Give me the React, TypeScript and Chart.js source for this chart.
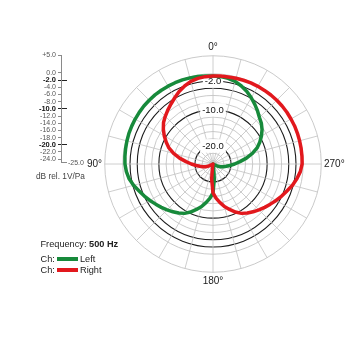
import React, { useEffect, useRef } from 'react';
import { Chart, registerables } from 'chart.js';

Chart.register(...registerables);

const FONT = "'Liberation Sans', Arial, Helvetica, sans-serif";

// Angles counter-clockwise from the top (0° at top, 90° left, 180° bottom, 270° right)
const ANGLES = [
  0, 5, 10, 15, 20, 25, 30, 35, 40, 45, 50, 55, 60, 65, 70, 75, 80, 85,
  90, 95, 100, 105, 110, 115, 120, 125, 130, 135, 140, 145, 150, 155, 160, 165, 170, 175,
  180, 185, 190, 195, 200, 205, 210, 215, 220, 225, 230, 235, 240, 245, 250, 255, 260, 265,
  270, 275, 280, 285, 290, 295, 300, 305, 310, 315, 320, 325, 330, 335, 340, 345, 350, 355,
];

// Left channel (green), dB rel. 1V/Pa, one value per angle above
const LEFT_DB = [
  -0.6, -0.5, -0.4, -0.3, -0.2, -0.15, -0.1, -0.05, 0, 0, 0, -0.05, -0.1, -0.15, -0.2, -0.3, -0.4, -0.5,
  -0.6, -0.9, -1.4, -2.2, -3.2, -4.0, -4.8, -5.6, -6.3, -7.0, -7.7, -8.4, -9.2, -10.3, -11.6, -12.8, -14.2, -15.5,
  -17.0, -20.8, -24.2, -25, -25, -25, -25, -25, -25, -25, -25, -25, -25, -23.5, -22.8, -22.0, -21.3, -20.3,
  -19.0, -17.5, -15.6, -13.7, -12.0, -10.7, -9.5, -8.4, -7.5, -6.8, -5.8, -4.8, -3.8, -2.8, -2.0, -1.3, -0.9, -0.7,
];

// Right channel (red)
const RIGHT_DB = [
  -0.6, -0.7, -0.9, -1.3, -2.0, -2.8, -3.8, -4.7, -5.5, -6.3, -7.1, -8.2, -9.4, -10.7, -12.0, -13.7, -15.6, -17.5,
  -19.0, -20.3, -21.3, -22.0, -22.8, -23.5, -25, -25, -25, -25, -25, -25, -25, -25, -25, -25, -24.2, -20.8,
  -17.0, -15.5, -14.2, -12.8, -11.6, -10.3, -9.2, -8.4, -7.7, -7.0, -6.3, -5.6, -4.8, -4.0, -3.2, -2.2, -1.4, -0.7,
  -0.3, -0.25, -0.2, -0.15, -0.1, -0.05, -0.05, 0, 0, 0, -0.05, -0.1, -0.15, -0.2, -0.3, -0.4, -0.5, -0.5,
];

const RING_VALUES = [-25, -24, -22, -20, -18, -16, -14, -12, -10, -8, -6, -4, -2, 0, 5];
const DARK_RINGS = [-2, -4, -10, -20];
const LABELED_RINGS = [-2, -10, -20];
const CARDINAL_LABELS: Record<number, string> = { 0: '0°', 90: '90°', 180: '180°', 270: '270°' };

const SCALE_TICKS = [5, 0, -2, -4, -6, -8, -10, -12, -14, -16, -18, -20, -22, -24, -25];
const SCALE_MAJOR = [-2, -10, -20];

const GREEN = '#178a3b';
const RED = '#e2181d';

function PolarChart() {
  const ref = useRef<HTMLCanvasElement | null>(null);
  useEffect(() => {
    const n = ANGLES.length;
    const idx = (i: number) => (n - i) % n; // clockwise radar index -> ccw angle index
    const labels = ANGLES.map((_, i) => ANGLES[idx(i)]);
    const chart = new Chart(ref.current!, {
      type: 'radar',
      data: {
        labels,
        datasets: [
          {
            label: 'Right',
            data: RIGHT_DB.map((_, i) => RIGHT_DB[idx(i)]),
            borderColor: RED,
            backgroundColor: RED,
            fill: false,
          },
          {
            label: 'Left',
            data: LEFT_DB.map((_, i) => LEFT_DB[idx(i)]),
            borderColor: GREEN,
            backgroundColor: GREEN,
            fill: false,
          },
        ],
      },
      options: {
        animation: false,
        responsive: false,
        plugins: { legend: { display: false }, tooltip: { enabled: false } },
        elements: {
          point: { radius: 0, hoverRadius: 0 },
          line: { borderWidth: 3.5, tension: 0, borderJoinStyle: 'round' },
        },
        scales: {
          r: {
            min: -25,
            max: 5,
            afterBuildTicks: (s: any) => {
              s.ticks = RING_VALUES.map((v) => ({ value: v }));
            },
            grid: {
              circular: true,
              color: (c: any) => (DARK_RINGS.includes(c.tick?.value) ? '#1c1c1c' : '#bcbcbc'),
              lineWidth: (c: any) => (DARK_RINGS.includes(c.tick?.value) ? 1.1 : 0.8),
            },
            angleLines: {
              color: (c: any) => (c.index % 3 === 0 ? '#c2c2c2' : 'transparent'),
              lineWidth: 0.8,
            },
            pointLabels: {
              display: true,
              padding: -4,
              color: '#1a1a1a',
              font: { size: 10, family: FONT },
              callback: (label: any) => CARDINAL_LABELS[Number(label)] ?? '',
            },
            ticks: {
              display: true,
              color: '#111',
              font: { size: 9.5, family: FONT },
              backdropColor: '#ffffff',
              showLabelBackdrop: (c: any) => LABELED_RINGS.includes(c.tick?.value),
              callback: (v: any) => (LABELED_RINGS.includes(Number(v)) ? Number(v).toFixed(1) : ''),
            },
          },
        },
      },
    } as any);
    return () => chart.destroy();
  }, []);
  return (
    <canvas
      ref={ref}
      width={340}
      height={246}
      style={{ position: 'absolute', left: 43, top: 41, width: 340, height: 246 }}
    />
  );
}

function LevelScale() {
  const ref = useRef<HTMLCanvasElement | null>(null);
  useEffect(() => {
    const chart = new Chart(ref.current!, {
      type: 'scatter',
      data: { datasets: [] },
      options: {
        animation: false,
        responsive: false,
        plugins: { legend: { display: false }, tooltip: { enabled: false } },
        layout: { padding: { top: 55, bottom: 37.3, left: 0, right: 3 } },
        scales: {
          x: { display: false, min: 0, max: 1 },
          y: {
            position: 'left',
            min: -25,
            max: 5,
            afterBuildTicks: (s: any) => {
              s.ticks = SCALE_TICKS.map((v) => ({ value: v }));
            },
            afterFit: (s: any) => {
              s.width = 61;
            },
            border: { display: true, color: '#8a8a8a', width: 1 },
            grid: {
              drawTicks: true,
              tickLength: 3,
              color: (c: any) => {
                const v = c.tick?.value;
                if (SCALE_MAJOR.includes(v)) return '#222';
                if (v === -25) return '#8a8a8a';
                return 'transparent';
              },
              tickColor: (c: any) => {
                const v = c.tick?.value;
                if (SCALE_MAJOR.includes(v)) return '#222';
                if (v === -25) return 'transparent';
                return '#8a8a8a';
              },
              lineWidth: 1,
            },
            ticks: {
              autoSkip: false,
              padding: 2,
              color: (c: any) => (SCALE_MAJOR.includes(c.tick?.value) ? '#111' : '#555'),
              font: (c: any) =>
                SCALE_MAJOR.includes(c.tick?.value)
                  ? { size: 7.5, weight: 'bold', family: FONT }
                  : { size: 7, family: FONT },
              callback: (v: any) => {
                const n = Number(v);
                if (n === -25) return '';
                return n > 0 ? '+' + n.toFixed(1) : n.toFixed(1);
              },
            },
          },
          y2: {
            position: 'right',
            min: -25,
            max: 5,
            afterBuildTicks: (s: any) => {
              s.ticks = [{ value: -25 }];
            },
            afterFit: (s: any) => {
              s.width = 30;
            },
            border: { display: false },
            grid: { display: false, drawTicks: false },
            ticks: {
              autoSkip: false,
              padding: 1,
              color: '#555',
              font: { size: 7, family: FONT },
              callback: (v: any) => Number(v).toFixed(1),
            },
          },
        },
      },
    } as any);
    return () => chart.destroy();
  }, []);
  return (
    <canvas
      ref={ref}
      width={100}
      height={200}
      style={{ position: 'absolute', left: 0, top: 0, width: 100, height: 200 }}
    />
  );
}

export default function App() {
  const textBase: React.CSSProperties = {
    position: 'absolute',
    fontFamily: FONT,
    color: '#222',
    whiteSpace: 'nowrap',
    lineHeight: '11px',
  };
  const swatch = (color: string, top: number): React.CSSProperties => ({
    position: 'absolute',
    left: 57,
    top,
    width: 21,
    height: 4,
    background: color,
  });
  return (
    <div
      style={{
        position: 'absolute',
        left: 0,
        top: 0,
        width: 350,
        height: 350,
        overflow: 'hidden',
        background: '#fff',
      }}
    >
      <LevelScale />
      <PolarChart />
      <div style={{ ...textBase, left: 36, top: 170.5, fontSize: 8.3, color: '#444' }}>dB rel. 1V/Pa</div>
      <div style={{ ...textBase, left: 40.5, top: 238.8, fontSize: 9.2 }}>
        Frequency: <b>500 Hz</b>
      </div>
      <div style={{ ...textBase, left: 40.5, top: 253.8, fontSize: 9.2 }}>Ch:</div>
      <div style={swatch(GREEN, 257.3)} />
      <div style={{ ...textBase, left: 80, top: 253.8, fontSize: 9.2 }}>Left</div>
      <div style={{ ...textBase, left: 40.5, top: 264.5, fontSize: 9.2 }}>Ch:</div>
      <div style={swatch(RED, 268)} />
      <div style={{ ...textBase, left: 80, top: 264.5, fontSize: 9.2 }}>Right</div>
    </div>
  );
}
